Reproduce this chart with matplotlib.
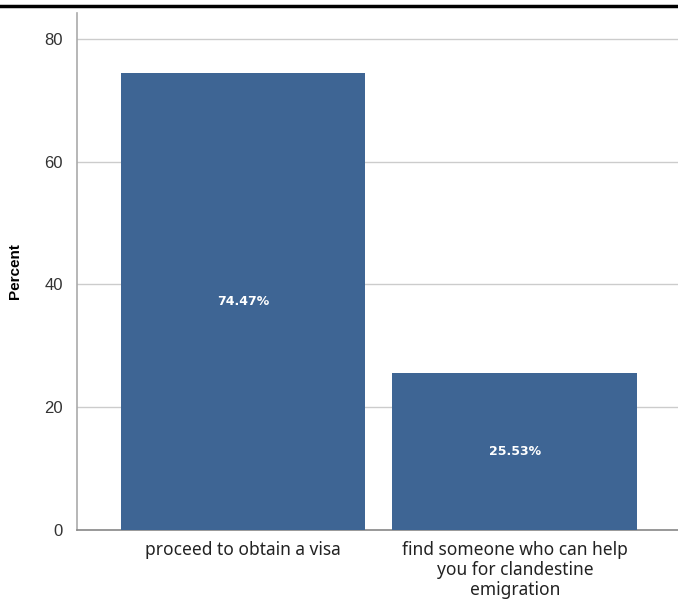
import matplotlib
matplotlib.use("Agg")
import matplotlib.pyplot as plt
from matplotlib.lines import Line2D

categories = ["proceed to obtain a visa",
              "find someone who can help\nyou for clandestine\nemigration"]
values = [74.47, 25.53]
value_labels = ["74.47%", "25.53%"]
yticks = [0, 20, 40, 60, 80]

fig = plt.figure(figsize=(6.78, 6.0), dpi=100)
ax = fig.add_axes([77/678, 70/600, 601/678, 517/600])

x = list(range(len(categories)))
ax.bar(x, values, width=0.9, color="#3E6594", zorder=3)
for xi, v, lab in zip(x, values, value_labels):
    ax.text(xi, v/2, lab, ha="center", va="center", color="white",
            fontsize=9, fontweight="bold", family="DejaVu Sans", zorder=4)

ax.set_xlim(-0.61, 1.6)
ax.set_ylim(0, 84.2)
ax.set_yticks(yticks)
ax.set_yticklabels([str(t) for t in yticks], fontsize=12, family="Liberation Sans", color="#333333")
ax.set_xticks(x)
ax.set_xticklabels(categories, fontsize=12.5, family="Noto Sans", color="#222222", linespacing=1.15)
ax.tick_params(axis="x", length=0, pad=8)
ax.tick_params(axis="y", length=0, pad=10)
ax.yaxis.grid(True, color="#cccccc", linewidth=1, zorder=0)
ax.set_ylabel("Percent", fontsize=11, fontweight="bold", family="Liberation Sans", labelpad=16)
for s in ["top", "right"]:
    ax.spines[s].set_visible(False)
ax.spines["left"].set_color("#aaaaaa")
ax.spines["bottom"].set_color("#888888")
ax.spines["left"].set_linewidth(1.2)
ax.spines["bottom"].set_linewidth(1.2)

fig.add_artist(Line2D([0, 1], [1 - 5.5/600, 1 - 5.5/600], transform=fig.transFigure,
                      color="black", linewidth=2.5))

fig.savefig("out.png", dpi=100)
